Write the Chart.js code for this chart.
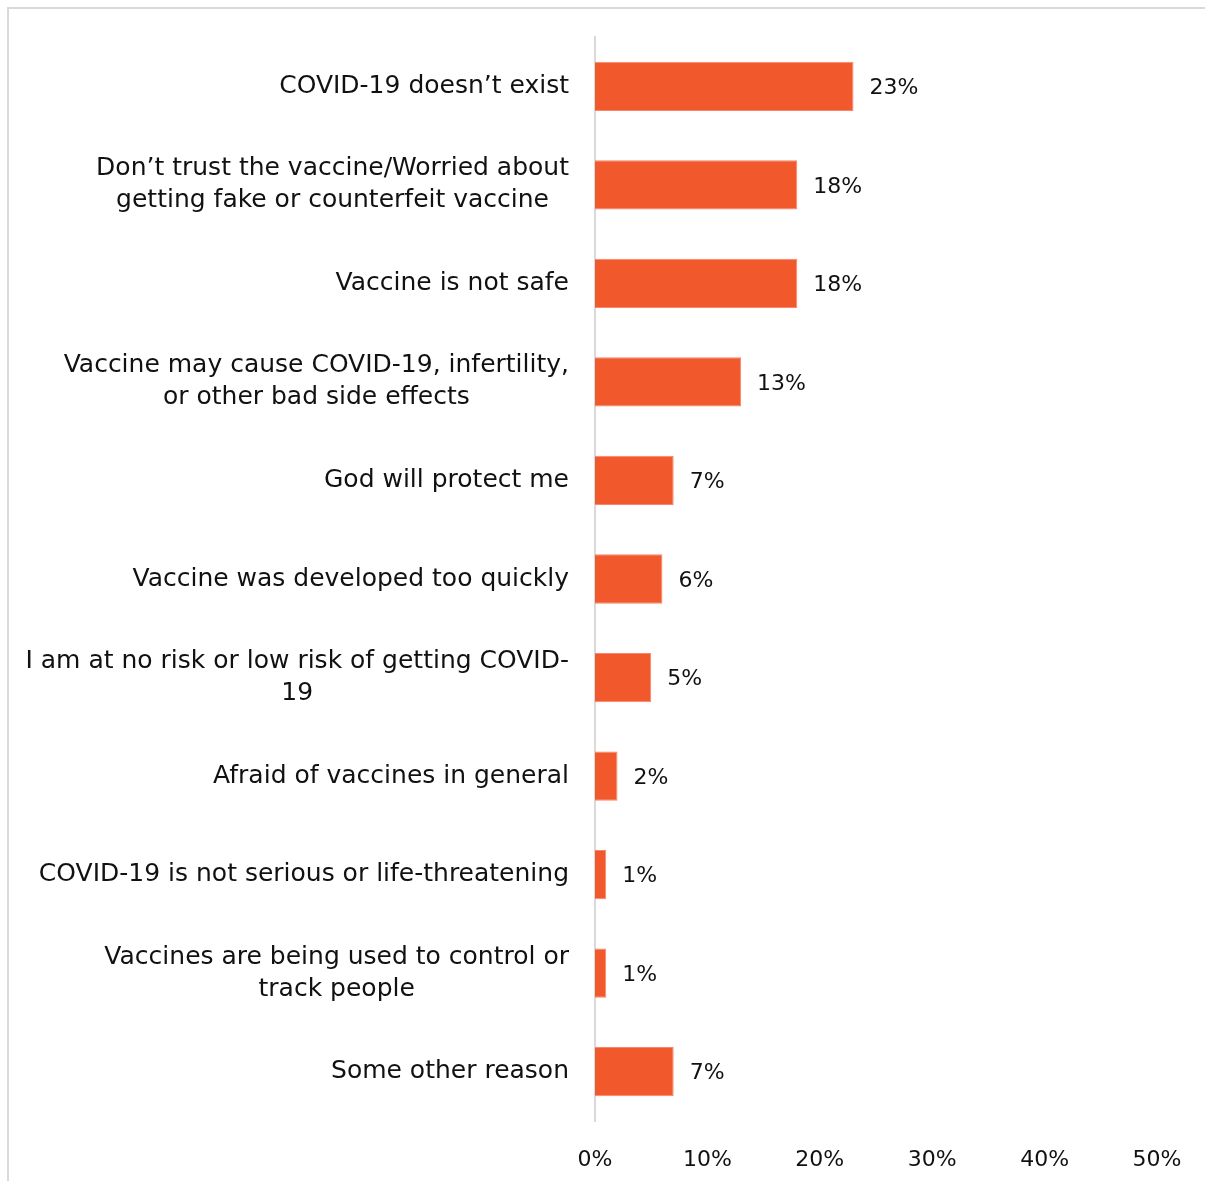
<!DOCTYPE html>
<html>
<head>
<meta charset="utf-8">
<script src="https://cdn.jsdelivr.net/npm/chart.js@4.4.1/dist/chart.umd.min.js"></script>
<style>
  html, body { margin: 0; padding: 0; background: #fff; }
  #wrap { position: relative; width: 1205px; height: 1181px; overflow: hidden; }
  #frame { position: absolute; left: 7px; top: 7px; width: 1220px; height: 1200px;
           border-top: 2px solid #d9d9d9; border-left: 2px solid #d9d9d9; box-sizing: border-box; }
  #reasons { position: absolute; left: 0; top: 0; }
</style>
</head>
<body>
<div id="wrap">
  <div id="frame"></div>
  <canvas id="reasons" width="1205" height="1181"></canvas>
</div>
<script>
const reasons = [
  ['COVID-19 doesn’t exist'],
  ['Don’t trust the vaccine/Worried about', 'getting fake or counterfeit vaccine'],
  ['Vaccine is not safe'],
  ['Vaccine may cause COVID-19, infertility,', 'or other bad side effects'],
  ['God will protect me'],
  ['Vaccine was developed too quickly'],
  ['I am at no risk or low risk of getting COVID-', '19'],
  ['Afraid of vaccines in general'],
  ['COVID-19 is not serious or life-threatening'],
  ['Vaccines are being used to control or', 'track people'],
  ['Some other reason']
];
const shares = [23, 18, 18, 13, 7, 6, 5, 2, 1, 1, 7];
const percentTicks = [0, 10, 20, 30, 40, 50];

const FONT = '"DejaVu Sans", sans-serif';
const BAR = '#f1582b';
const INK = '#111111';

// category labels: block right-aligned to the axis, lines centred within the block
const reasonLabels = {
  id: 'reasonLabels',
  afterDraw(chart) {
    const { ctx } = chart;
    const y = chart.scales.y;
    const right = chart.chartArea.left - 26;
    const lineH = 32;
    ctx.save();
    ctx.font = '25px ' + FONT;
    ctx.fillStyle = INK;
    ctx.textAlign = 'center';
    ctx.textBaseline = 'middle';
    reasons.forEach((lines, i) => {
      const w = Math.max(...lines.map(l => ctx.measureText(l).width));
      const cx = right - w / 2;
      const cy = y.getPixelForTick(i);
      const top = cy - (lines.length - 1) * lineH / 2;
      lines.forEach((l, k) => ctx.fillText(l, cx, top + k * lineH));
    });
    ctx.restore();
  }
};

// value labels just past the end of each bar
const valueLabels = {
  id: 'valueLabels',
  afterDatasetsDraw(chart) {
    const { ctx } = chart;
    const meta = chart.getDatasetMeta(0);
    ctx.save();
    ctx.font = '22px ' + FONT;
    ctx.fillStyle = INK;
    ctx.textAlign = 'left';
    ctx.textBaseline = 'middle';
    meta.data.forEach((bar, i) => {
      ctx.fillText(shares[i] + '%', bar.x + 16, bar.y + 2);
    });
    ctx.restore();
  }
};

new Chart(document.getElementById('reasons'), {
  type: 'bar',
  data: {
    labels: reasons.map(r => r.join(' ')),
    datasets: [{
      data: shares,
      backgroundColor: BAR,
      borderColor: '#f7866a',
      borderWidth: 1,
      barPercentage: 0.5,
      categoryPercentage: 1
    }]
  },
  options: {
    indexAxis: 'y',
    responsive: false,
    animation: false,
    layout: { padding: { top: 37, right: 48, bottom: 0, left: 0 } },
    plugins: { legend: { display: false }, tooltip: { enabled: false } },
    scales: {
      x: {
        min: 0,
        max: 50,
        afterBuildTicks(scale) { scale.ticks = percentTicks.map(v => ({ value: v })); },
        grid: { display: false },
        border: { display: false },
        ticks: {
          color: INK,
          font: { family: FONT, size: 22 },
          padding: 18,
          callback: v => v + '%'
        },
        afterFit(scale) { scale.height = 60; }
      },
      y: {
        grid: { display: false },
        border: { display: true, color: '#d9d9d9', width: 2 },
        ticks: { display: false },
        afterFit(scale) { scale.width = 595; }
      }
    }
  },
  plugins: [reasonLabels, valueLabels]
});
</script>
</body>
</html>
